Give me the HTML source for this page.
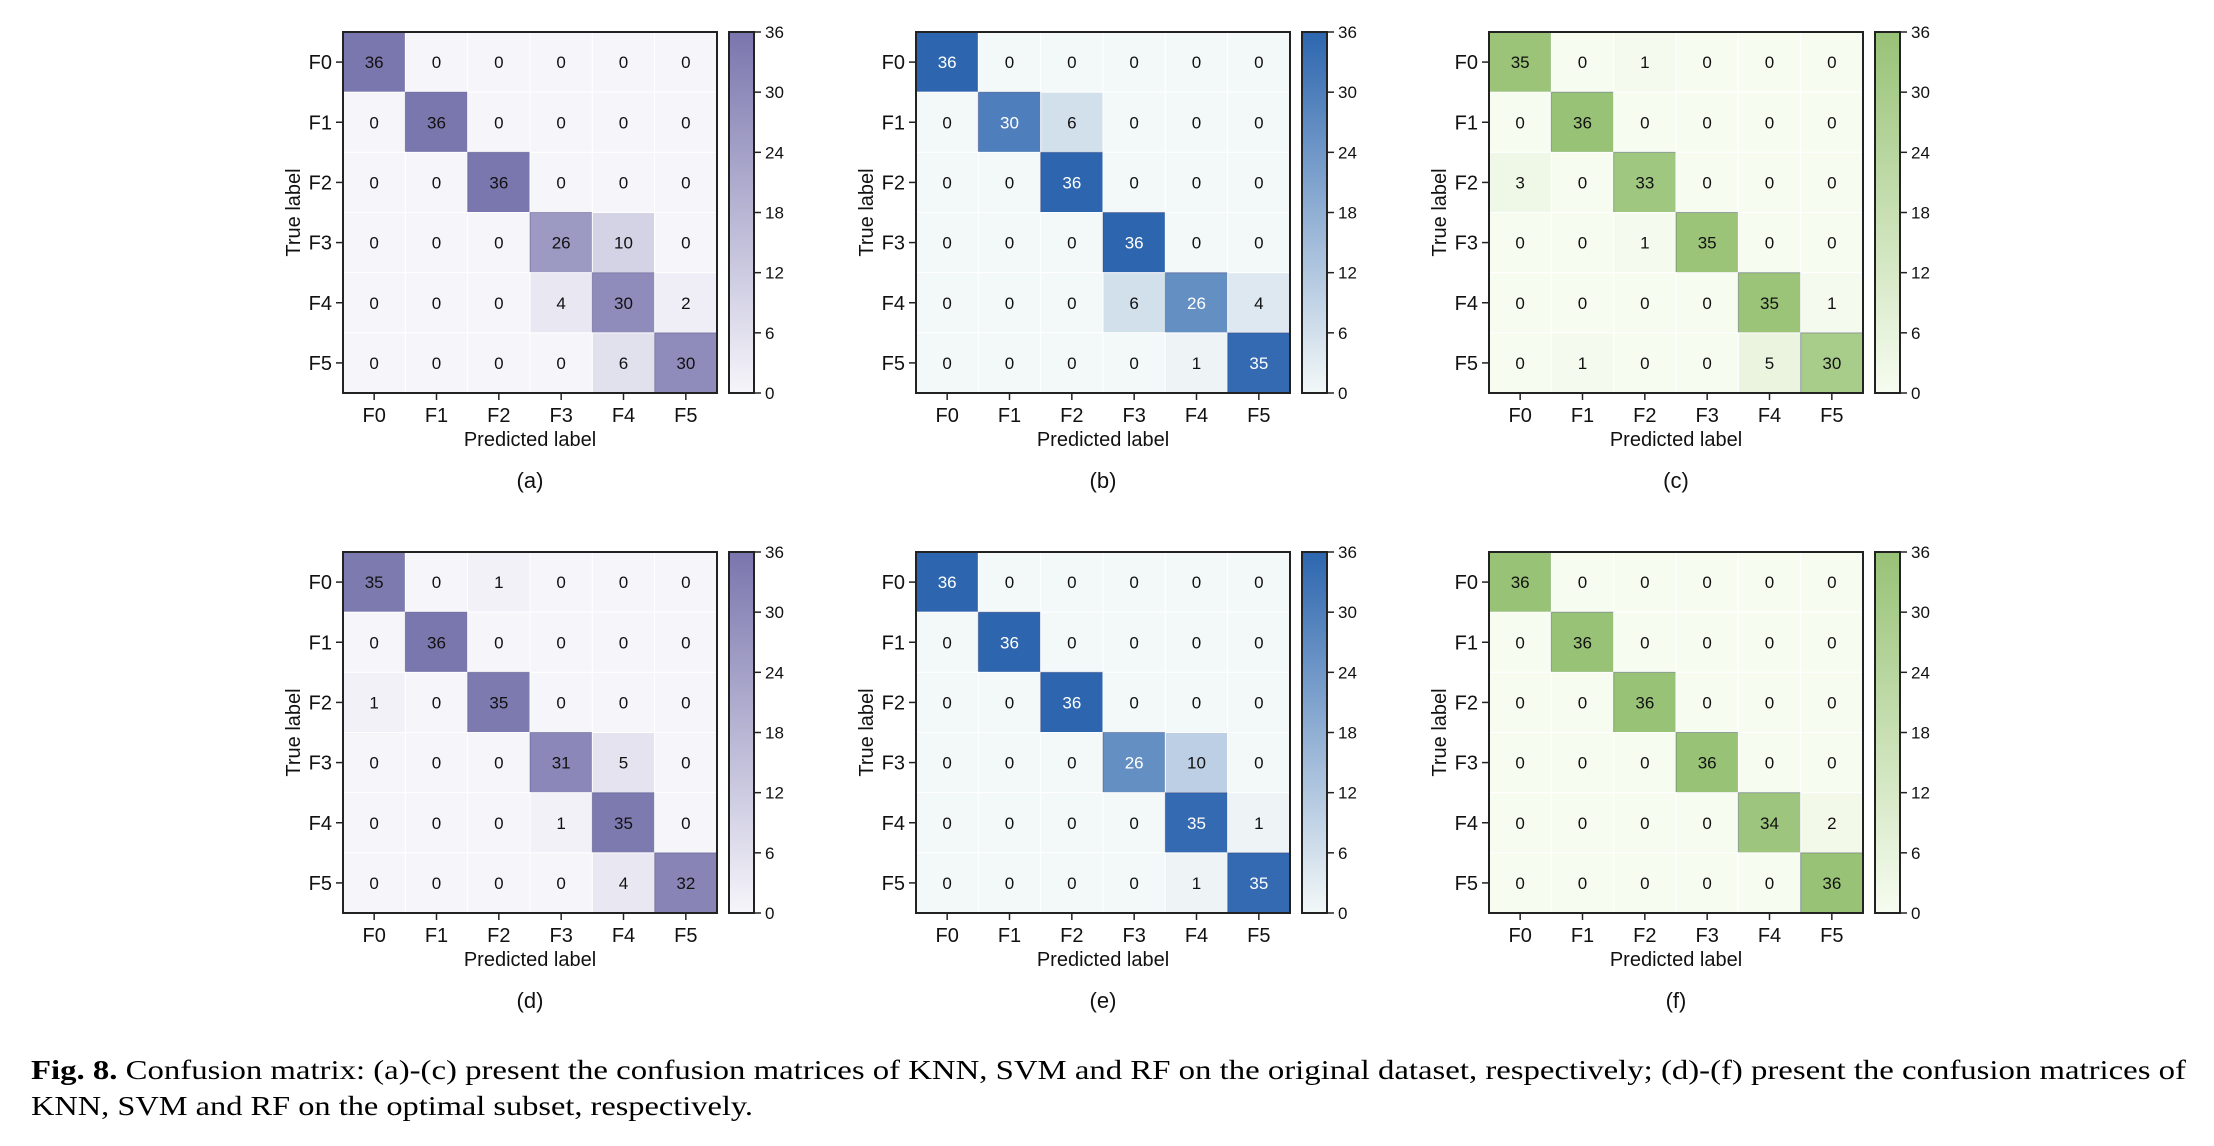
<!DOCTYPE html>
<html><head><meta charset="utf-8"><style>
html,body{margin:0;padding:0;background:#fff;}
svg{display:block;}
</style></head><body>
<svg id="fig" width="2214" height="1146" xmlns="http://www.w3.org/2000/svg" font-family="Liberation Sans, sans-serif">
<defs></defs>
<g id="panels"></g>
<text x="31" y="1079" font-family="Liberation Serif, serif" font-size="27" textLength="2155" lengthAdjust="spacingAndGlyphs"><tspan font-weight="bold">Fig. 8.</tspan>  Confusion matrix: (a)-(c) present the confusion matrices of KNN, SVM and RF on the original dataset, respectively; (d)-(f) present the confusion matrices of</text>
<text x="31" y="1115" font-family="Liberation Serif, serif" font-size="27" textLength="722" lengthAdjust="spacingAndGlyphs">KNN, SVM and RF on the optimal subset, respectively.</text>
</svg>
<script>
const classes = ["F0","F1","F2","F3","F4","F5"];
const cbTicks = [0,6,12,18,24,30,36];
const maxVal = 36;
const panelLetters = ["(a)","(b)","(c)","(d)","(e)","(f)"];
const matA = [[36,0,0,0,0,0],[0,36,0,0,0,0],[0,0,36,0,0,0],[0,0,0,26,10,0],[0,0,0,4,30,2],[0,0,0,0,6,30]];
const matB = [[36,0,0,0,0,0],[0,30,6,0,0,0],[0,0,36,0,0,0],[0,0,0,36,0,0],[0,0,0,6,26,4],[0,0,0,0,1,35]];
const matC = [[35,0,1,0,0,0],[0,36,0,0,0,0],[3,0,33,0,0,0],[0,0,1,35,0,0],[0,0,0,0,35,1],[0,1,0,0,5,30]];
const matD = [[35,0,1,0,0,0],[0,36,0,0,0,0],[1,0,35,0,0,0],[0,0,0,31,5,0],[0,0,0,1,35,0],[0,0,0,0,4,32]];
const matE = [[36,0,0,0,0,0],[0,36,0,0,0,0],[0,0,36,0,0,0],[0,0,0,26,10,0],[0,0,0,0,35,1],[0,0,0,0,1,35]];
const matF = [[36,0,0,0,0,0],[0,36,0,0,0,0],[0,0,36,0,0,0],[0,0,0,36,0,0],[0,0,0,0,34,2],[0,0,0,0,0,36]];
const matrices = [matA,matB,matC,matD,matE,matF];
const palettes = [
 {lo:[246,245,250],hi:[122,118,174],white:false},
 {lo:[243,248,248],hi:[45,102,175],white:true},
 {lo:[247,252,240],hi:[152,194,118],white:false}
];
const NS="http://www.w3.org/2000/svg";
const root=document.getElementById('panels');
const defs=document.querySelector('defs');
function mk(tag,attrs,parent){const e=document.createElementNS(NS,tag);for(const k in attrs)e.setAttribute(k,attrs[k]);(parent||root).appendChild(e);return e;}
function col(p,v){const t=v/maxVal;const c=p.lo.map((l,i)=>Math.round(l+(p.hi[i]-l)*t));return `rgb(${c[0]},${c[1]},${c[2]})`;}
palettes.forEach((p,i)=>{const g=mk('linearGradient',{id:'grad'+i,x1:0,y1:1,x2:0,y2:0},defs);mk('stop',{offset:0,'stop-color':col(p,0)},g);mk('stop',{offset:1,'stop-color':col(p,maxVal)},g);});
const W=374,H=361;
matrices.forEach((m,pi)=>{
 const colI=pi%3,rowI=Math.floor(pi/3);
 const x0=343+colI*573, y0=32+rowI*520;
 const pal=palettes[colI];
 const g=mk('g',{});
 
 
 const xs=i=>x0+i*W/classes.length, ys=i=>y0+i*H/classes.length;
 const cw=W/classes.length, ch=H/classes.length;
 m.forEach((row,r)=>row.forEach((v,c)=>{
  const rc=mk('rect',{x:xs(c),y:ys(r),width:cw,height:ch,fill:col(pal,v),stroke:v>15?'rgba(40,40,100,0.35)':'#fff','stroke-width':1},g);
  
  
  const t=mk('text',{x:xs(c)+cw/2,y:ys(r)+ch/2+6,'text-anchor':'middle','font-size':17,fill:(pal.white&&v>=26)?'#fff':'#111'},g);
  t.textContent=v;
  
  
 }));
 mk('rect',{x:x0,y:y0,width:W,height:H,fill:'none',stroke:'#222','stroke-width':2},g);
 classes.forEach((cl,i)=>{
  const yc=ys(i)+ch/2, xc=xs(i)+cw/2;
  mk('line',{x1:x0-7,x2:x0,y1:yc,y2:yc,stroke:'#222','stroke-width':1.5},g);
  const ty=mk('text',{x:x0-11,y:yc+7,'text-anchor':'end','font-size':20,fill:'#111'},g);
  ty.textContent=cl;
  
  
  mk('line',{x1:xc,x2:xc,y1:y0+H,y2:y0+H+7,stroke:'#222','stroke-width':1.5},g);
  const tx=mk('text',{x:xc,y:y0+H+29,'text-anchor':'middle','font-size':20,fill:'#111'},g);
  tx.textContent=cl;
  
  
 });
 const xl=mk('text',{x:x0+W/2,y:y0+H+53,'text-anchor':'middle','font-size':20,fill:'#111'},g);
 xl.textContent='Predicted label';
 
 
 const yl=mk('text',{x:0,y:0,'text-anchor':'middle','font-size':20,fill:'#111',transform:`translate(${x0-43},${y0+H/2}) rotate(-90)`},g);
 yl.textContent='True label';
 
 
 const pl=mk('text',{x:x0+W/2,y:y0+456,'text-anchor':'middle','font-size':22,fill:'#111'},g);
 pl.textContent=panelLetters[pi];
 
 
 const cx=x0+386, cbw=25;
 const cb=mk('rect',{x:cx,y:y0,width:cbw,height:H,fill:`url(#grad${colI})`,stroke:'#222','stroke-width':2},g);
 
 
 cbTicks.forEach(tv=>{
  const yy=y0+H-tv/maxVal*H;
  mk('line',{x1:cx+cbw,x2:cx+cbw+7,y1:yy,y2:yy,stroke:'#222','stroke-width':1.5},g);
  const tt=mk('text',{x:cx+cbw+11,y:yy+6,'font-size':17,fill:'#111'},g);
  tt.textContent=tv;
  
  
 });
});
</script>
</body></html>
